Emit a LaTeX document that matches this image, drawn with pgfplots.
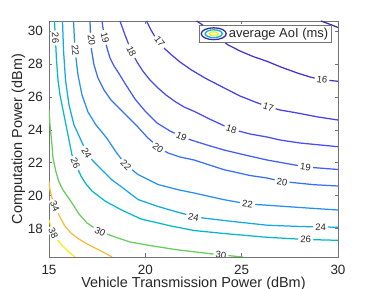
\documentclass[border=0pt]{standalone}
\usepackage{fontspec}
\setmainfont{Liberation Sans}
\usepackage{pgfplots}
\pgfplotsset{compat=1.18}
\definecolor{c15}{rgb}{0.25,0.16,0.68}
\definecolor{c16}{rgb}{0.27,0.20,0.80}
\definecolor{c17}{rgb}{0.28,0.25,0.90}
\definecolor{c18}{rgb}{0.28,0.30,0.96}
\definecolor{c19}{rgb}{0.26,0.36,0.99}
\definecolor{c20}{rgb}{0.22,0.43,0.99}
\definecolor{c22}{rgb}{0.15,0.56,0.95}
\definecolor{c24}{rgb}{0.08,0.66,0.90}
\definecolor{c26}{rgb}{0.02,0.72,0.78}
\definecolor{c30}{rgb}{0.40,0.80,0.36}
\definecolor{c34}{rgb}{0.99,0.73,0.24}
\definecolor{c38}{rgb}{0.97,0.93,0.10}
\definecolor{axgray}{rgb}{0.45,0.45,0.45}
\definecolor{txt}{rgb}{0.15,0.15,0.15}
\tikzset{lbl/.style={font=\fontsize{9.5}{9.5}\selectfont, text=txt, fill=white, inner xsep=2.2bp, inner ysep=0.5bp}}
\begin{document}
\begin{tikzpicture}
\useasboundingbox (-49bp,-32bp) rectangle (325bp,257bp);
\begin{axis}[
  scale only axis, width=289bp, height=236bp,
  xmin=15, xmax=30, ymin=16.275, ymax=30.612,
  xtick={15,20,25,30}, ytick={18,20,22,24,26,28,30},
  tick align=inside,
  axis line style={draw=axgray, line width=0.6bp},
  tick style={draw=axgray, line width=0.6bp},
  major tick length=3.5bp,
  /pgf/number format/assume math mode=true,
  ticklabel style={font=\fontsize{13.5}{14}\selectfont, text=txt},
  xticklabel style={anchor=north, inner sep=0pt, yshift=-8bp},
  yticklabel style={anchor=east, inner sep=0pt, xshift=-6bp},
  xlabel={Vehicle Transmission Power (dBm)},
  ylabel={Computation Power (dBm)},
  label style={font=\fontsize{14.5}{15}\selectfont, text=txt},
  xlabel style={at={(axis description cs:0.5,-0.1275)}, anchor=base},
  ylabel style={at={(axis description cs:-0.0931,0.5)}, anchor=base},
  legend style={at={(axis description cs:0.9792,0.9831)}, anchor=north east,
    draw=axgray, fill=white, line width=0.6bp, inner xsep=1.5bp, inner ysep=1bp,
    font=\fontsize{13}{13}\selectfont, text=txt},
  every axis plot/.append style={line width=1.25bp},
]
\addlegendimage{legend image code/.code={
  \draw[c15, line width=1.3bp] (13bp,0) ellipse [x radius=12.5bp, y radius=5.9bp];
  \draw[c26, line width=1.3bp] (13bp,0) ellipse [x radius=8.5bp, y radius=3.9bp];
  \draw[c38, line width=1.3bp] (13bp,0) ellipse [x radius=4.5bp, y radius=1.9bp];
}}
\addlegendentry{average AoI (ms)}

\addplot[c15, forget plot] coordinates {(29.117,30.612) (29.584,30.41) (30,30.217)};
\addplot[c16, forget plot] coordinates {(22.666,30.612) (23.356,30.066) (23.719,29.683) (24.275,29.173) (24.913,28.790) (25.588,28.456) (26.315,28.164) (26.990,27.836) (27.887,27.453) (28.546,27.210) (29.169,27.046) (30,26.949)};
\addplot[c17, forget plot] coordinates {(20.060,30.612) (20.294,30.066) (20.486,29.683) (20.761,29.276) (21.021,28.911) (21.347,28.565) (21.799,28.121) (22.370,27.654) (23.095,27.149) (24.098,26.542) (24.913,26.056) (25.832,25.631) (26.341,25.418) (26.990,25.205) (27.887,25.023) (28.962,24.780) (30,24.598)};
\addplot[c18, forget plot] coordinates {(18.685,30.612) (18.945,29.762) (19.282,28.759) (19.567,28.121) (19.879,27.556) (20.242,27.028) (20.657,26.542) (21.073,26.117) (21.524,25.734) (22.007,25.388) (22.526,25.126) (23.408,24.616) (24.446,24.051) (25.432,23.747) (26.315,23.565) (26.990,23.383) (28.027,23.200) (30,22.976)};
\addplot[c19, forget plot] coordinates {(17.751,30.612) (17.855,29.762) (18.010,28.972) (18.166,28.365) (18.374,27.878) (18.581,27.514) (18.996,26.724) (19.464,25.874) (19.983,25.145) (20.605,24.416) (21.280,23.930) (21.877,23.595) (22.370,23.383) (23.199,23.079) (24.083,22.775) (25.173,22.471) (26.315,22.168) (28.338,21.742) (30,21.591)};
\addplot[c20, forget plot] coordinates {(17.128,30.612) (17.154,29.762) (17.206,28.851) (17.336,27.939) (17.543,27.149) (17.855,26.420) (18.218,25.813) (18.581,25.388) (19.048,24.841) (19.567,24.233) (20.086,23.565) (20.657,22.957) (21.176,22.593) (21.799,22.350) (22.526,22.168) (24.083,21.578) (25.432,21.226) (26.315,21.074) (27.096,20.862) (28.754,20.667) (30,20.588)};
\addplot[c22, forget plot] coordinates {(16.272,30.612) (16.349,28.851) (16.505,27.332) (16.713,26.117) (17.024,25.084) (17.439,24.294) (17.995,23.504) (18.477,22.654) (18.996,21.864) (19.619,21.287) (20.657,20.679) (21.695,20.363) (22.526,20.163) (24.083,19.756) (25.330,19.495) (26.159,19.434) (28.027,19.282) (30,19.130)};
\addplot[c24, forget plot] coordinates {(15.701,30.612) (15.753,28.851) (15.856,27.028) (16.038,25.509) (16.298,24.294) (16.609,23.504) (16.957,22.593) (17.299,22.089) (17.818,21.481) (18.254,20.971) (18.737,20.558) (19.619,19.768) (20.657,19.343) (21.643,19.009) (22.526,18.735) (22.992,18.644) (24.446,18.444) (26.315,18.207) (28.027,18.128) (30,18.079)};
\addplot[c26, forget plot] coordinates {(15.285,30.612) (15.337,29.458) (15.389,28.243) (15.467,27.028) (15.571,26.117) (15.727,25.205) (15.882,24.294) (16.038,23.383) (16.194,22.471) (16.401,21.864) (16.661,21.196) (16.920,20.710) (17.232,20.284) (17.907,19.677) (18.737,19.148) (19.775,18.583) (21.332,18.158) (22.526,17.885) (24.083,17.702) (26.315,17.472) (28.338,17.338) (30,17.289)};
\addplot[c30, forget plot] coordinates {(15,25.205) (15.052,24.294) (15.130,23.383) (15.208,22.289) (15.363,21.439) (15.519,20.831) (15.727,20.345) (16.090,19.738) (16.557,18.887) (16.972,18.340) (17.647,17.824) (18.426,17.490) (19.204,17.186) (20.242,16.973) (21.540,16.730) (22.836,16.548) (23.979,16.396) (25.069,16.275)};
\addplot[c34, forget plot] coordinates {(15,20.862) (15.052,20.345) (15.156,19.859) (15.311,19.343) (15.467,18.948) (15.623,18.583) (15.830,18.140) (16.142,17.733) (16.505,17.399) (17.024,17.034) (17.735,16.621) (18.270,16.275)};
\addplot[c38, forget plot] coordinates {(15,18.522) (15.104,18.158) (15.208,17.733) (15.363,17.429) (15.659,17.004) (15.986,16.639) (16.349,16.275)};

\node[lbl, rotate=-87] at (axis cs:15.327,29.58) {26};
\node[lbl, rotate=-85] at (axis cs:16.375,28.85) {22};
\node[lbl, rotate=-82] at (axis cs:17.216,29.44) {20};
\node[lbl, rotate=-76] at (axis cs:17.907,29.62) {19};
\node[lbl, rotate=-64] at (axis cs:19.272,28.77) {18};
\node[lbl, rotate=-51] at (axis cs:20.746,29.34) {17};
\node[lbl, rotate=-8] at (axis cs:29.169,27.046) {16};
\node[lbl, rotate=-17] at (axis cs:26.382,25.388) {17};
\node[lbl, rotate=-18] at (axis cs:24.472,24.051) {18};
\node[lbl, rotate=-23] at (axis cs:21.877,23.595) {19};
\node[lbl, rotate=-7] at (axis cs:28.313,21.742) {19};
\node[lbl, rotate=-37] at (axis cs:20.657,22.897) {20};
\node[lbl, rotate=-8] at (axis cs:27.096,20.831) {20};
\node[lbl, rotate=-46] at (axis cs:18.996,21.864) {22};
\node[lbl, rotate=-7] at (axis cs:25.302,19.495) {22};
\node[lbl, rotate=-60] at (axis cs:16.957,22.593) {24};
\node[lbl, rotate=-12] at (axis cs:22.5,18.687) {24};
\node[lbl, rotate=-1] at (axis cs:29.102,18.079) {24};
\node[lbl, rotate=-67] at (axis cs:16.375,21.985) {26};
\node[lbl, rotate=-2] at (axis cs:28.323,17.326) {26};
\node[lbl, rotate=-27] at (axis cs:17.647,17.824) {30};
\node[lbl, rotate=-6] at (axis cs:23.927,16.396) {30};
\node[lbl, rotate=-68] at (axis cs:15.311,19.343) {34};
\node[lbl, rotate=-67] at (axis cs:15.223,17.702) {38};
\end{axis}
\end{tikzpicture}
\end{document}
